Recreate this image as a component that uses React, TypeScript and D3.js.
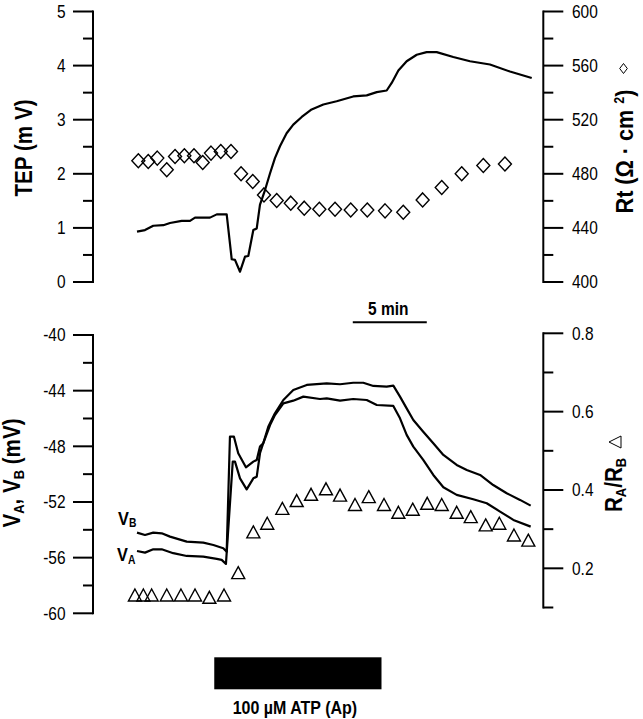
import React from 'react';
import * as d3 from 'd3';

// ---------- data (time in minutes) ----------
const tepTime = [0, 0.54, 1.1, 1.78, 2.23, 3.02, 3.58, 3.92, 4.93, 5.39, 6.06, 6.4, 6.62, 6.96, 7.3, 7.52, 7.86, 8.09, 8.31, 8.65, 8.99, 9.32, 9.66, 10.11, 10.56, 11.13, 11.8, 12.59, 13.49, 14.61, 15.52, 16.2, 16.87, 17.21, 17.66, 18.22, 18.9, 19.57, 20.25, 21.37, 22.5, 23.85, 25.2, 26.67];
const tepValue = [0.93, 0.96, 1.04, 1.05, 1.09, 1.13, 1.13, 1.19, 1.19, 1.25, 1.25, 0.42, 0.41, 0.19, 0.47, 0.48, 0.96, 0.99, 1.43, 1.7, 2.01, 2.29, 2.51, 2.75, 2.91, 3.05, 3.19, 3.28, 3.34, 3.43, 3.45, 3.51, 3.54, 3.68, 3.91, 4.08, 4.2, 4.25, 4.25, 4.16, 4.08, 4.02, 3.89, 3.77];

const rtTime = [0.09, 0.76, 1.37, 2.01, 2.57, 3.2, 3.85, 4.44, 5.0, 5.66, 6.35, 7.03, 7.82, 8.58, 9.44, 10.39, 11.3, 12.32, 13.38, 14.44, 15.56, 16.76, 17.99, 19.3, 20.59, 21.94, 23.4, 24.86];
const rtValue = [489.6, 489.1, 491.6, 483.0, 492.8, 493.3, 493.3, 488.4, 495.3, 496.5, 496.5, 480, 474.3, 464.4, 460.2, 458.3, 454.6, 453.8, 453.8, 453.3, 453.3, 452.6, 451.6, 460.7, 469.8, 480, 486.2, 487.2];

const vbTime = [0, 0.54, 1.1, 1.67, 2.23, 3.36, 4.48, 5.16, 5.83, 6.06, 6.28, 6.55, 6.84, 7.36, 7.86, 8.09, 8.31, 8.53, 8.87, 9.32, 9.89, 10.56, 11.47, 12.82, 13.72, 14.61, 15.29, 15.97, 16.87, 17.32, 17.77, 18.22, 18.67, 19.34, 20.02, 20.7, 21.6, 22.28, 23.18, 24.07, 24.98, 25.88, 26.6];
const vbValue = [-54.2, -54.37, -54.2, -54.25, -54.49, -54.85, -54.92, -55.09, -55.32, -55.57, -47.31, -47.31, -48.5, -49.51, -49.1, -48.98, -48.02, -47.78, -46.59, -45.63, -44.67, -43.95, -43.59, -43.47, -43.54, -43.43, -43.43, -43.66, -43.71, -43.64, -44.43, -45.27, -46.11, -46.95, -47.78, -48.62, -49.34, -49.7, -50.06, -50.78, -51.37, -51.85, -52.26];

const vaTime = [0, 0.54, 1.1, 1.67, 2.45, 3.36, 4.48, 5.39, 5.72, 6.01, 6.47, 6.62, 6.96, 7.41, 7.86, 8.09, 8.31, 8.53, 8.99, 9.32, 9.89, 10.56, 11.24, 12.36, 12.82, 13.72, 14.61, 15.52, 16.2, 17.32, 17.77, 18.22, 18.67, 19.34, 20.02, 20.7, 21.6, 22.72, 23.63, 24.53, 25.43, 26.6];
const vaValue = [-55.52, -55.64, -55.4, -55.4, -55.68, -55.88, -55.93, -56.09, -56.16, -56.45, -49.1, -49.1, -50.3, -51.09, -50.3, -50.18, -48.5, -47.78, -46.47, -45.75, -44.91, -44.72, -44.43, -44.6, -44.55, -44.72, -44.6, -44.67, -45.03, -45.1, -45.99, -47.18, -48.02, -48.98, -50.06, -50.94, -51.49, -51.8, -52.09, -52.69, -53.29, -53.77];

const ratioTime = [-0.14, 0.43, 0.99, 2.01, 2.97, 3.92, 4.89, 5.88, 6.84, 7.86, 8.8, 9.82, 10.79, 11.76, 12.77, 13.72, 14.73, 15.66, 16.69, 17.66, 18.63, 19.61, 20.59, 21.6, 22.55, 23.56, 24.48, 25.47, 26.44];
const ratioValue = [0.132, 0.132, 0.132, 0.132, 0.132, 0.132, 0.126, 0.132, 0.189, 0.293, 0.315, 0.353, 0.373, 0.389, 0.403, 0.387, 0.363, 0.383, 0.363, 0.343, 0.351, 0.366, 0.363, 0.343, 0.332, 0.311, 0.315, 0.285, 0.272];

const atpStart = 5.22;
const atpEnd = 16.52;
const scaleBarStart = 14.58;
const scaleBarMinutes = 5;

const tepTicks = [0, 0.5, 1, 1.5, 2, 2.5, 3, 3.5, 4, 4.5, 5];
const tepLabels = [0, 1, 2, 3, 4, 5];
const rtTicks = [400, 420, 440, 460, 480, 500, 520, 540, 560, 580, 600];
const rtLabels = [400, 440, 480, 520, 560, 600];
const vTicks = [-60, -58, -56, -54, -52, -50, -48, -46, -44, -42, -40];
const vLabels = [-60, -56, -52, -48, -44, -40];
const ratioTicks = [0.1, 0.2, 0.3, 0.4, 0.5, 0.6, 0.7, 0.8];
const ratioLabels = [0.2, 0.4, 0.6, 0.8];

// ---------- scales ----------
const W = 643;
const H = 719;
const x = d3.scaleLinear().domain([0, 26.7]).range([137, 532.16]);
const yTep = d3.scaleLinear().domain([0, 5]).range([282, 11.5]);
const yRt = d3.scaleLinear().domain([400, 600]).range([282, 11.5]);
const yV = d3.scaleLinear().domain([-60, -40]).range([613.3, 335]);
const yRatio = d3.scaleLinear().domain([0.1, 0.8]).range([607.5, 333.3]);

const FONT = '"Liberation Sans", Arial, Helvetica, sans-serif';

function T(props: any) {
  const { x, y, rotate = 0, sx = 0.86, size, weight = 'normal', anchor = 'middle', children } = props;
  return (
    <text
      transform={`translate(${x},${y}) rotate(${rotate}) scale(${sx},1)`}
      fontSize={size}
      fontWeight={weight}
      textAnchor={anchor}
      fontFamily={FONT}
      fill="#000"
    >
      {children}
    </text>
  );
}

function Axis(props: any) {
  const { scale, ax, side, ticks, labels, fmt } = props;
  const r = scale.range();
  const dir = side === 'left' ? -1 : 1;
  const isMajor = (v: number) => labels.some((l: number) => Math.abs(l - v) < 1e-9);
  return (
    <g>
      <line x1={ax} x2={ax} y1={Math.min(r[0], r[1]) - 1} y2={Math.max(r[0], r[1]) + 1} stroke="#000" strokeWidth={2} />
      {ticks.map((v: number) => {
        const y = scale(v);
        const len = isMajor(v) ? 20 : 10;
        return <line key={'t' + v} x1={ax} x2={ax + dir * len} y1={y} y2={y} stroke="#000" strokeWidth={2} />;
      })}
      {labels.map((v: number) => (
        <T key={'l' + v} x={side === 'left' ? ax - 27.5 : ax + 28.7} y={scale(v) + 6.4} size={18} anchor={side === 'left' ? 'end' : 'start'}>
          {fmt(v)}
        </T>
      ))}
    </g>
  );
}

function linePath(times: number[], values: number[], yScale: any) {
  const idx = times.map((_, i) => i);
  return d3
    .line<number>()
    .x((i) => x(times[i]))
    .y((i) => yScale(values[i]))(idx) as string;
}

const diamond = (cx: number, cy: number, w = 6.5, h = 7) =>
  `M${cx},${cy - h}L${cx + w},${cy}L${cx},${cy + h}L${cx - w},${cy}Z`;
const triangle = (cx: number, cy: number, w = 6.5, h = 6) =>
  `M${cx},${cy - h}L${cx + w},${cy + h}L${cx - w},${cy + h}Z`;

export default function App() {
  const lx = 93;
  const rx = 543.3;
  return (
    <svg width={W} height={H} style={{ position: 'absolute', left: 0, top: 0, background: '#fff' }}>
      <rect x={0} y={0} width={W} height={H} fill="#fff" />

      {/* ---------- top panel ---------- */}
      <Axis scale={yTep} ax={lx} side="left" ticks={tepTicks} labels={tepLabels} fmt={(v: number) => String(v)} />
      <Axis scale={yRt} ax={rx} side="right" ticks={rtTicks} labels={rtLabels} fmt={(v: number) => String(v)} />

      <path d={linePath(tepTime, tepValue, yTep)} fill="none" stroke="#000" strokeWidth={2.2} strokeLinejoin="round" />
      {rtTime.map((t, i) => (
        <path key={'d' + i} d={diamond(x(t), yRt(rtValue[i]))} fill="none" stroke="#000" strokeWidth={1.4} />
      ))}

      <T x={32} y={148} rotate={-90} size={24} weight="bold">TEP (m V)</T>
      <T x={633} y={151.5} rotate={-90} size={24} weight="bold" sx={0.9}>
        Rt (Ω · cm <tspan fontSize={14} dy={-9}>2</tspan><tspan dy={9}>)</tspan>
      </T>
      <path d={diamond(623.5, 68.5, 3.8, 5)} fill="none" stroke="#000" strokeWidth={1} />

      {/* scale bar */}
      <line x1={x(scaleBarStart)} x2={x(scaleBarStart + scaleBarMinutes)} y1={322.3} y2={322.3} stroke="#000" strokeWidth={2} />
      <T x={(x(scaleBarStart) + x(scaleBarStart + scaleBarMinutes)) / 2 - 1.5} y={315} size={18} weight="bold">5 min</T>

      {/* ---------- bottom panel ---------- */}
      <Axis scale={yV} ax={lx} side="left" ticks={vTicks} labels={vLabels} fmt={(v: number) => String(v)} />
      <Axis scale={yRatio} ax={rx} side="right" ticks={ratioTicks} labels={ratioLabels} fmt={(v: number) => v.toFixed(1)} />

      <path d={linePath(vbTime, vbValue, yV)} fill="none" stroke="#000" strokeWidth={2.2} strokeLinejoin="round" />
      <path d={linePath(vaTime, vaValue, yV)} fill="none" stroke="#000" strokeWidth={2.2} strokeLinejoin="round" />
      {ratioTime.map((t, i) => (
        <path key={'r' + i} d={triangle(x(t), yRatio(ratioValue[i]))} fill="none" stroke="#000" strokeWidth={1.4} />
      ))}

      <T x={118} y={525} size={19} weight="bold" anchor="start">
        V<tspan fontSize={12} dy={2}>B</tspan>
      </T>
      <T x={117} y={561} size={19} weight="bold" anchor="start">
        V<tspan fontSize={12} dy={3}>A</tspan>
      </T>

      <T x={20} y={473} rotate={-90} size={24} weight="bold">
        V<tspan fontSize={15} dy={4}>A</tspan>
        <tspan dy={-4}>, V</tspan>
        <tspan fontSize={15} dy={4}>B</tspan>
        <tspan dy={-4}> (mV)</tspan>
      </T>
      <T x={622} y={485} rotate={-90} size={24} weight="bold">
        R<tspan fontSize={15} dy={4}>A</tspan>
        <tspan dy={-4}>/R</tspan>
        <tspan fontSize={15} dy={4}>B</tspan>
      </T>
      <path d="M609,442L621,436L621,448Z" fill="none" stroke="#000" strokeWidth={1} />

      {/* ATP bar */}
      <rect x={x(atpStart)} y={657.3} width={x(atpEnd) - x(atpStart)} height={32} fill="#000" />
      <T x={(x(atpStart) + x(atpEnd)) / 2 - 3} y={713.5} size={18} weight="bold" sx={0.89}>100 µM ATP (Ap)</T>
    </svg>
  );
}
